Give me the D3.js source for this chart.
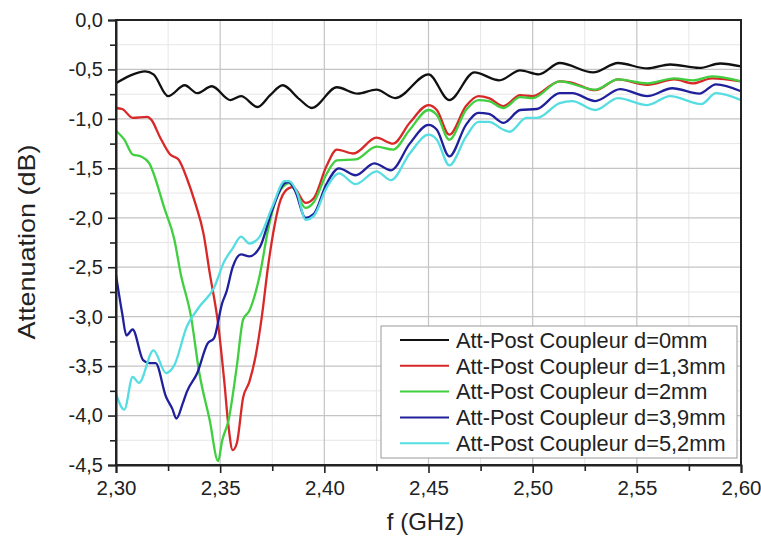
<!DOCTYPE html>
<html>
<head>
<meta charset="utf-8">
<script src="https://cdn.jsdelivr.net/npm/d3@7/dist/d3.min.js"></script>
<style>
  body { margin: 0; background: #fff; }
  svg text { font-family: "Liberation Sans", Arial, sans-serif; fill: #222; }
</style>
</head>
<body>
<div id="container"></div>
<script>
// data (f in GHz, attenuation in dB)
let f0 = [2.300,2.307,2.314,2.318,2.325,2.333,2.339,2.346,2.355,2.360,2.368,2.374,2.380,2.388,2.394,2.406,2.416,2.425,2.434,2.450,2.460,2.472,2.484,2.494,2.503,2.513,2.529,2.541,2.555,2.566,2.580,2.590,2.600];
let att0 = [-0.64,-0.56,-0.52,-0.55,-0.77,-0.66,-0.74,-0.67,-0.81,-0.77,-0.88,-0.76,-0.66,-0.80,-0.89,-0.68,-0.745,-0.705,-0.79,-0.55,-0.81,-0.53,-0.61,-0.51,-0.55,-0.435,-0.53,-0.435,-0.49,-0.45,-0.485,-0.44,-0.47];

let f13 = [2.300,2.303,2.308,2.315,2.317,2.321,2.326,2.330,2.334,2.338,2.342,2.345,2.349,2.352,2.354,2.356,2.358,2.361,2.364,2.367,2.370,2.373,2.376,2.379,2.383,2.385,2.391,2.395,2.401,2.406,2.414,2.425,2.433,2.441,2.450,2.454,2.460,2.468,2.474,2.479,2.486,2.494,2.500,2.513,2.518,2.530,2.541,2.555,2.568,2.577,2.586,2.600];
let att13 = [-0.89,-0.90,-0.99,-0.98,-1.01,-1.18,-1.36,-1.41,-1.60,-1.85,-2.16,-2.56,-3.07,-3.66,-4.11,-4.35,-4.28,-3.82,-3.66,-3.40,-3.00,-2.49,-2.09,-1.82,-1.70,-1.69,-1.85,-1.80,-1.48,-1.31,-1.35,-1.19,-1.25,-1.04,-0.86,-0.91,-1.16,-0.87,-0.77,-0.79,-0.87,-0.76,-0.77,-0.62,-0.63,-0.71,-0.60,-0.655,-0.60,-0.64,-0.59,-0.62];

let f2 = [2.300,2.304,2.308,2.312,2.316,2.318,2.323,2.328,2.331,2.336,2.340,2.345,2.349,2.351,2.354,2.358,2.361,2.364,2.369,2.373,2.377,2.381,2.383,2.386,2.391,2.395,2.401,2.406,2.415,2.425,2.433,2.441,2.450,2.454,2.460,2.468,2.474,2.479,2.486,2.494,2.500,2.513,2.530,2.541,2.555,2.568,2.577,2.586,2.600];
let att2 = [-1.12,-1.21,-1.36,-1.38,-1.45,-1.55,-1.89,-2.22,-2.56,-3.00,-3.57,-4.05,-4.46,-4.25,-4.05,-3.50,-3.03,-2.94,-2.58,-2.12,-1.80,-1.67,-1.65,-1.72,-1.90,-1.84,-1.56,-1.42,-1.41,-1.28,-1.31,-1.11,-0.91,-0.96,-1.21,-0.91,-0.81,-0.82,-0.89,-0.78,-0.79,-0.62,-0.705,-0.60,-0.64,-0.59,-0.61,-0.57,-0.62];

let f39 = [2.300,2.303,2.305,2.308,2.313,2.316,2.319,2.324,2.327,2.329,2.332,2.334,2.339,2.344,2.347,2.351,2.353,2.356,2.360,2.364,2.369,2.375,2.381,2.383,2.386,2.391,2.395,2.401,2.407,2.415,2.424,2.432,2.441,2.450,2.454,2.460,2.468,2.474,2.479,2.486,2.494,2.502,2.513,2.519,2.530,2.542,2.555,2.567,2.580,2.588,2.600];
let att39 = [-2.58,-2.97,-3.19,-3.13,-3.44,-3.47,-3.47,-3.81,-3.93,-4.03,-3.88,-3.76,-3.57,-3.27,-3.22,-2.86,-2.75,-2.50,-2.37,-2.39,-2.30,-1.92,-1.65,-1.64,-1.73,-2.00,-1.96,-1.66,-1.50,-1.57,-1.45,-1.52,-1.25,-1.06,-1.11,-1.38,-1.06,-0.94,-0.95,-1.04,-0.91,-0.90,-0.74,-0.74,-0.82,-0.70,-0.77,-0.69,-0.745,-0.65,-0.72];

let f52 = [2.300,2.304,2.308,2.311,2.318,2.324,2.328,2.334,2.340,2.347,2.352,2.356,2.360,2.364,2.369,2.375,2.381,2.383,2.387,2.391,2.395,2.401,2.407,2.415,2.425,2.432,2.441,2.450,2.454,2.460,2.468,2.474,2.479,2.486,2.489,2.497,2.502,2.513,2.519,2.530,2.541,2.555,2.566,2.581,2.588,2.600];
let att52 = [-3.78,-3.94,-3.61,-3.67,-3.34,-3.57,-3.49,-3.10,-2.90,-2.71,-2.44,-2.31,-2.19,-2.26,-2.19,-1.89,-1.63,-1.63,-1.75,-2.02,-1.98,-1.70,-1.55,-1.66,-1.53,-1.62,-1.35,-1.16,-1.21,-1.47,-1.18,-1.03,-1.03,-1.11,-1.13,-0.99,-0.99,-0.84,-0.82,-0.91,-0.79,-0.86,-0.77,-0.85,-0.74,-0.81];

let names = ["Att-Post Coupleur d=0mm","Att-Post Coupleur d=1,3mm","Att-Post Coupleur d=2mm","Att-Post Coupleur d=3,9mm","Att-Post Coupleur d=5,2mm"];
let colors = ["#111111","#d82828","#3fcf3f","#20209c","#55dde2"];
let xTicks = [2.30,2.35,2.40,2.45,2.50,2.55,2.60];
let yTicks = [0,-0.5,-1,-1.5,-2,-2.5,-3,-3.5,-4,-4.5];

let series = [[f0,att0],[f13,att13],[f2,att2],[f39,att39],[f52,att52]].map((s,i)=>({
    name: names[i], color: colors[i],
    pts: s[0].map((f,j)=>[f, s[1][j]])
}));

let w = 761, h = 537;
let mLeft = 116, mRight = 741, mTop = 20, mBottom = 465;

let svg = d3.select("div#container").append("svg")
    .attr("width", w).attr("height", h)
    .attr("viewBox", "0 0 " + w + " " + h);

let x = d3.scaleLinear().domain([2.30,2.60]).range([mLeft,mRight]);
let y = d3.scaleLinear().domain([-4.5,0]).range([mBottom,mTop]);
// comma decimals and a plain hyphen for the minus, as in the original
let comma = v => d3.format(".2f")(v).replace(".", ",");
let commaY = v => d3.format(".1f")(v).replace(".", ",").replace("\u2212", "-");

// grid: minor first (lighter), then major
let minorX = d3.range(2.325, 2.6, 0.05);
let minorY = d3.range(-0.25, -4.5, -0.5);
svg.append("g").selectAll("line").data(minorX).enter().append("line")
    .attr("x1", d=>x(d)).attr("x2", d=>x(d)).attr("y1", mTop).attr("y2", mBottom)
    .attr("stroke", "#e6e6e6").attr("stroke-width", 1);
svg.append("g").selectAll("line").data(minorY).enter().append("line")
    .attr("x1", mLeft).attr("x2", mRight).attr("y1", d=>y(d)).attr("y2", d=>y(d))
    .attr("stroke", "#e6e6e6").attr("stroke-width", 1);
svg.append("g").selectAll("line").data(xTicks.slice(1,-1)).enter().append("line")
    .attr("x1", d=>x(d)).attr("x2", d=>x(d)).attr("y1", mTop).attr("y2", mBottom)
    .attr("stroke", "#c4c4c4").attr("stroke-width", 1.2);
svg.append("g").selectAll("line").data(yTicks.slice(1,-1)).enter().append("line")
    .attr("x1", mLeft).attr("x2", mRight).attr("y1", d=>y(d)).attr("y2", d=>y(d))
    .attr("stroke", "#c4c4c4").attr("stroke-width", 1.2);

// curves
let line = d3.line().x(d=>x(d[0])).y(d=>y(d[1])).curve(d3.curveMonotoneX);
svg.append("g").selectAll("path").data(series).enter().append("path")
    .attr("d", d=>line(d.pts))
    .attr("fill", "none")
    .attr("stroke", d=>d.color)
    .attr("stroke-width", 2.3)
    .attr("stroke-linejoin", "round");

// frame
svg.append("rect").attr("x", mLeft).attr("y", mTop)
    .attr("width", mRight-mLeft).attr("height", mBottom-mTop)
    .attr("fill", "none").attr("stroke", "#222").attr("stroke-width", 2);

// axes
let xAxis = svg.append("g").attr("transform", "translate(0," + mBottom + ")")
    .call(d3.axisBottom(x).tickValues(xTicks).tickFormat(comma).tickSize(8).tickPadding(7));
svg.append("g").attr("transform", "translate(0," + mBottom + ")")
    .call(d3.axisBottom(x).tickValues(minorX).tickFormat("").tickSize(6))
    .select(".domain").remove();
let yAxis = svg.append("g").attr("transform", "translate(" + mLeft + ",0)")
    .call(d3.axisLeft(y).tickValues(yTicks).tickFormat(commaY).tickSize(8).tickPadding(5));
svg.append("g").attr("transform", "translate(" + mLeft + ",0)")
    .call(d3.axisLeft(y).tickValues(minorY).tickFormat("").tickSize(6))
    .select(".domain").remove();
svg.selectAll(".domain").attr("stroke", "#222").attr("stroke-width", 2);
svg.selectAll(".tick line").attr("stroke", "#222").attr("stroke-width", 1.6);
xAxis.selectAll("text").style("font-size", "20.5px").attr("fill", "#222");
yAxis.selectAll("text").style("font-size", "20px").attr("fill", "#222");

// axis titles
svg.append("text").attr("x", (mLeft+mRight)/2 - 3).attr("y", 530)
    .attr("text-anchor", "middle").style("font-size", "24px").text("f (GHz)");
svg.append("text").attr("transform", "translate(35," + 242 + ") rotate(-90)")
    .attr("text-anchor", "middle").style("font-size", "24px")
    .attr("textLength", 195).attr("lengthAdjust", "spacingAndGlyphs")
    .text("Attenuation (dB)");

// legend
let lg = svg.append("g").attr("transform", "translate(381,326)");
lg.append("rect").attr("width", 356).attr("height", 132)
    .attr("fill", "#fff").attr("stroke", "#999").attr("stroke-width", 1);
let rows = lg.selectAll("g.row").data(series).enter().append("g")
    .attr("class", "row")
    .attr("transform", (d,i)=>"translate(0," + (14 + i*25.8) + ")");
rows.append("line").attr("x1", 19).attr("x2", 68).attr("y1", 0).attr("y2", 0)
    .attr("stroke", d=>d.color).attr("stroke-width", 2);
rows.append("text").attr("x", 75).attr("y", 7.8)
    .style("font-size", "21.8px").text(d=>d.name);
</script>
</body>
</html>
